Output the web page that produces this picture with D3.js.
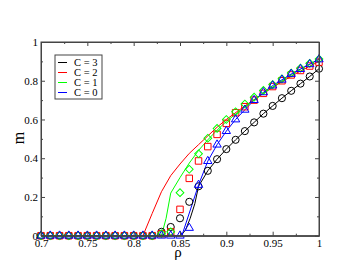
<!DOCTYPE html>
<html>
<head>
<meta charset="utf-8">
<script src="https://cdn.jsdelivr.net/npm/d3@7"></script>
<style>
  body { margin: 0; background: #fff; }
  text { font-family: "Liberation Serif", "DejaVu Serif", serif; }
</style>
</head>
<body>
<div id="wrapper"></div>
<script>
// data
const rhoPoints = [0.70, 0.71, 0.72, 0.73, 0.74, 0.75, 0.76, 0.77, 0.78, 0.79, 0.80,
  0.81, 0.82, 0.83, 0.84, 0.85, 0.86, 0.87, 0.88, 0.89, 0.90,
  0.91, 0.92, 0.93, 0.94, 0.95, 0.96, 0.97, 0.98, 0.99, 1.00];

// simulation markers
const c3Points = [0, 0, 0, 0, 0, 0, 0, 0, 0, 0, 0, 0, 0,
  0.02, 0.045, 0.09, 0.175, 0.255, 0.335, 0.395, 0.447,
  0.495, 0.54, 0.585, 0.63, 0.67, 0.71, 0.748, 0.785, 0.822, 0.862];
const c2Points = [0, 0, 0, 0, 0, 0, 0, 0, 0, 0, 0, 0, 0,
  0.01, 0.02, 0.136, 0.296, 0.386, 0.46, 0.523, 0.58,
  0.635, 0.666, 0.70, 0.735, 0.77, 0.80, 0.83, 0.853, 0.876, 0.896];
const c1Points = [0, 0, 0, 0, 0, 0, 0, 0, 0, 0, 0, 0, 0,
  0.01, 0.02, 0.222, 0.343, 0.423, 0.503, 0.554, 0.60,
  0.64, 0.68, 0.715, 0.75, 0.78, 0.81, 0.84, 0.865, 0.89, 0.912];
const c0Points = [0, 0, 0, 0, 0, 0, 0, 0, 0, 0, 0, 0, 0,
  0, 0, 0, 0.04, 0.262, 0.385, 0.47, 0.54,
  0.60, 0.65, 0.70, 0.74, 0.775, 0.805, 0.835, 0.86, 0.885, 0.91];

// theory curves (rho, m)
const c3LineRho = [0.70, 0.851, 0.856, 0.861, 0.866, 0.87, 0.88, 0.89, 0.90, 0.91, 0.92, 0.93, 0.94, 0.95, 0.96, 0.97, 0.98, 0.99, 1.00];
const c3LineM = [0, 0, 0.03, 0.09, 0.165, 0.255, 0.335, 0.395, 0.447, 0.495, 0.54, 0.585, 0.63, 0.67, 0.71, 0.748, 0.785, 0.822, 0.862];
const c2LineRho = [0.70, 0.81, 0.82, 0.83, 0.84, 0.85, 0.86, 0.87, 0.88, 0.89, 0.90, 0.92, 0.94, 0.96, 0.98, 1.00];
const c2LineM = [0, 0, 0.115, 0.227, 0.31, 0.37, 0.425, 0.47, 0.515, 0.56, 0.60, 0.67, 0.735, 0.795, 0.85, 0.90];
const c1LineRho = [0.70, 0.83, 0.835, 0.84, 0.85, 0.86, 0.87, 0.88, 0.89, 0.90, 0.92, 0.94, 0.96, 0.98, 1.00];
const c1LineM = [0, 0, 0.09, 0.22, 0.30, 0.375, 0.44, 0.495, 0.545, 0.59, 0.665, 0.735, 0.80, 0.86, 0.912];
const c0LineRho = [0.70, 0.852, 0.87, 0.88, 0.89, 0.90, 0.91, 0.92, 0.93, 0.94, 0.95, 0.96, 0.97, 0.98, 0.99, 1.00];
const c0LineM = [0, 0, 0.262, 0.385, 0.47, 0.54, 0.60, 0.65, 0.70, 0.74, 0.775, 0.805, 0.835, 0.86, 0.885, 0.91];

const legendLabels = ["C = 3", "C = 2", "C = 1", "C = 0"];
const seriesColors = ["#000000", "#ff0000", "#00ff00", "#0000ff"];
const xTicks = [0.7, 0.75, 0.8, 0.85, 0.9, 0.95, 1];
const xTickLabels = ["0.7", "0.75", "0.8", "0.85", "0.9", "0.95", "1"];
const yTicks = [0, 0.2, 0.4, 0.6, 0.8, 1];
const yTickLabels = ["0", "0.2", "0.4", "0.6", "0.8", "1"];

function drawChart() {
  const dimensions = {
    width: 359,
    height: 278,
    margin: { top: 42, right: 40, bottom: 42.3, left: 41 },
  };
  dimensions.boundedWidth = dimensions.width - dimensions.margin.left - dimensions.margin.right;
  dimensions.boundedHeight = dimensions.height - dimensions.margin.top - dimensions.margin.bottom;

  const svg = d3.select("#wrapper").append("svg")
    .attr("width", dimensions.width)
    .attr("height", dimensions.height);

  const bounds = svg.append("g")
    .attr("transform", `translate(${dimensions.margin.left},${dimensions.margin.top})`);

  const xScale = d3.scaleLinear().domain([0.7, 1]).range([0, dimensions.boundedWidth]);
  const yScale = d3.scaleLinear().domain([0, 1]).range([dimensions.boundedHeight, 0]);

  // lines
  const lineGen = d3.line().x((d) => xScale(d[0])).y((d) => yScale(d[1]));
  const lineSets = [
    [c3LineRho, c3LineM], [c2LineRho, c2LineM], [c1LineRho, c1LineM], [c0LineRho, c0LineM],
  ];
  lineSets.forEach(([xs, ys], i) => {
    bounds.append("path")
      .attr("d", lineGen(xs.map((x, j) => [x, ys[j]])))
      .attr("fill", "none")
      .attr("stroke", seriesColors[i])
      .attr("stroke-width", 1);
  });

  // markers
  const markerSets = [c3Points, c2Points, c1Points, c0Points];
  const symbols = [
    { type: d3.symbolCircle, size: 40, rotate: 0 },
    { type: d3.symbolSquare, size: 42, rotate: 0 },
    { type: d3.symbolSquare, size: 30, rotate: 45 },
    { type: d3.symbolTriangle, size: 30, rotate: 0 },
  ];
  markerSets.forEach((vals, i) => {
    const sym = d3.symbol().type(symbols[i].type).size(symbols[i].size);
    bounds.append("g").selectAll("path")
      .data(vals)
      .join("path")
      .attr("d", sym)
      .attr("transform", (d, j) =>
        `translate(${xScale(rhoPoints[j])},${yScale(d)}) rotate(${symbols[i].rotate})`)
      .attr("fill", "none")
      .attr("stroke", seriesColors[i])
      .attr("stroke-width", 1);
  });

  // frame and ticks (inside, all four sides)
  const axisColor = "#444";
  const xAxisBottom = d3.axisBottom(xScale).tickValues(xTicks)
    .tickFormat((d, i) => xTickLabels[i]).tickSizeInner(-4).tickSizeOuter(0).tickPadding(6);
  const xMinor = d3.axisBottom(xScale).tickValues(d3.range(0.725, 1, 0.05))
    .tickFormat("").tickSizeInner(-2).tickSizeOuter(0);
  const yAxisLeft = d3.axisLeft(yScale).tickValues(yTicks)
    .tickFormat((d, i) => yTickLabels[i]).tickSizeInner(-4).tickSizeOuter(0).tickPadding(6);
  const yMinor = d3.axisLeft(yScale).tickValues([0.1, 0.3, 0.5, 0.7, 0.9])
    .tickFormat("").tickSizeInner(-2).tickSizeOuter(0);

  const gx = bounds.append("g").attr("transform", `translate(0,${dimensions.boundedHeight})`).call(xAxisBottom);
  bounds.append("g").attr("transform", `translate(0,${dimensions.boundedHeight})`).call(xMinor);
  const gy = bounds.append("g").call(yAxisLeft);
  bounds.append("g").call(yMinor);

  bounds.append("g").call(d3.axisTop(xScale).tickValues(xTicks).tickFormat("").tickSizeInner(-4).tickSizeOuter(0));
  bounds.append("g").call(d3.axisTop(xScale).tickValues(d3.range(0.725, 1, 0.05)).tickFormat("").tickSizeInner(-2).tickSizeOuter(0));
  bounds.append("g").attr("transform", `translate(${dimensions.boundedWidth},0)`)
    .call(d3.axisRight(yScale).tickValues(yTicks).tickFormat("").tickSizeInner(-4).tickSizeOuter(0));
  bounds.append("g").attr("transform", `translate(${dimensions.boundedWidth},0)`)
    .call(d3.axisRight(yScale).tickValues([0.1, 0.3, 0.5, 0.7, 0.9]).tickFormat("").tickSizeInner(-2).tickSizeOuter(0));

  bounds.selectAll(".domain").attr("stroke", axisColor);
  bounds.selectAll(".tick line").attr("stroke", axisColor);
  bounds.selectAll(".tick text")
    .style("font-family", "Liberation Serif, serif")
    .style("font-size", "11px")
    .attr("fill", "#000");
  gx.selectAll(".tick text").attr("dy", "0.55em").attr("y", 5);
  gy.selectAll(".tick text").attr("x", -3);

  bounds.append("rect")
    .attr("width", dimensions.boundedWidth)
    .attr("height", dimensions.boundedHeight)
    .attr("fill", "none")
    .attr("stroke", axisColor)
    .attr("stroke-width", 1);

  // axis labels
  svg.append("text")
    .attr("x", 178)
    .attr("y", 257)
    .attr("text-anchor", "middle")
    .style("font-size", "15px")
    .text("ρ");
  svg.append("text")
    .attr("transform", "rotate(-90)")
    .attr("x", -138)
    .attr("y", 24)
    .attr("text-anchor", "middle")
    .style("font-size", "16px")
    .text("m");

  // legend
  const legend = svg.append("g").attr("transform", "translate(55,55)");
  legend.append("rect")
    .attr("width", 47)
    .attr("height", 44)
    .attr("fill", "#fff")
    .attr("stroke", axisColor);
  legendLabels.forEach((label, i) => {
    const y = 7.5 + i * 10;
    legend.append("line")
      .attr("x1", 3).attr("x2", 12)
      .attr("y1", y).attr("y2", y)
      .attr("stroke", seriesColors[i]);
    legend.append("text")
      .attr("x", 19)
      .attr("y", y + 3.5)
      .style("font-size", "10.5px")
      .text(label);
  });
}

drawChart();
</script>
</body>
</html>
